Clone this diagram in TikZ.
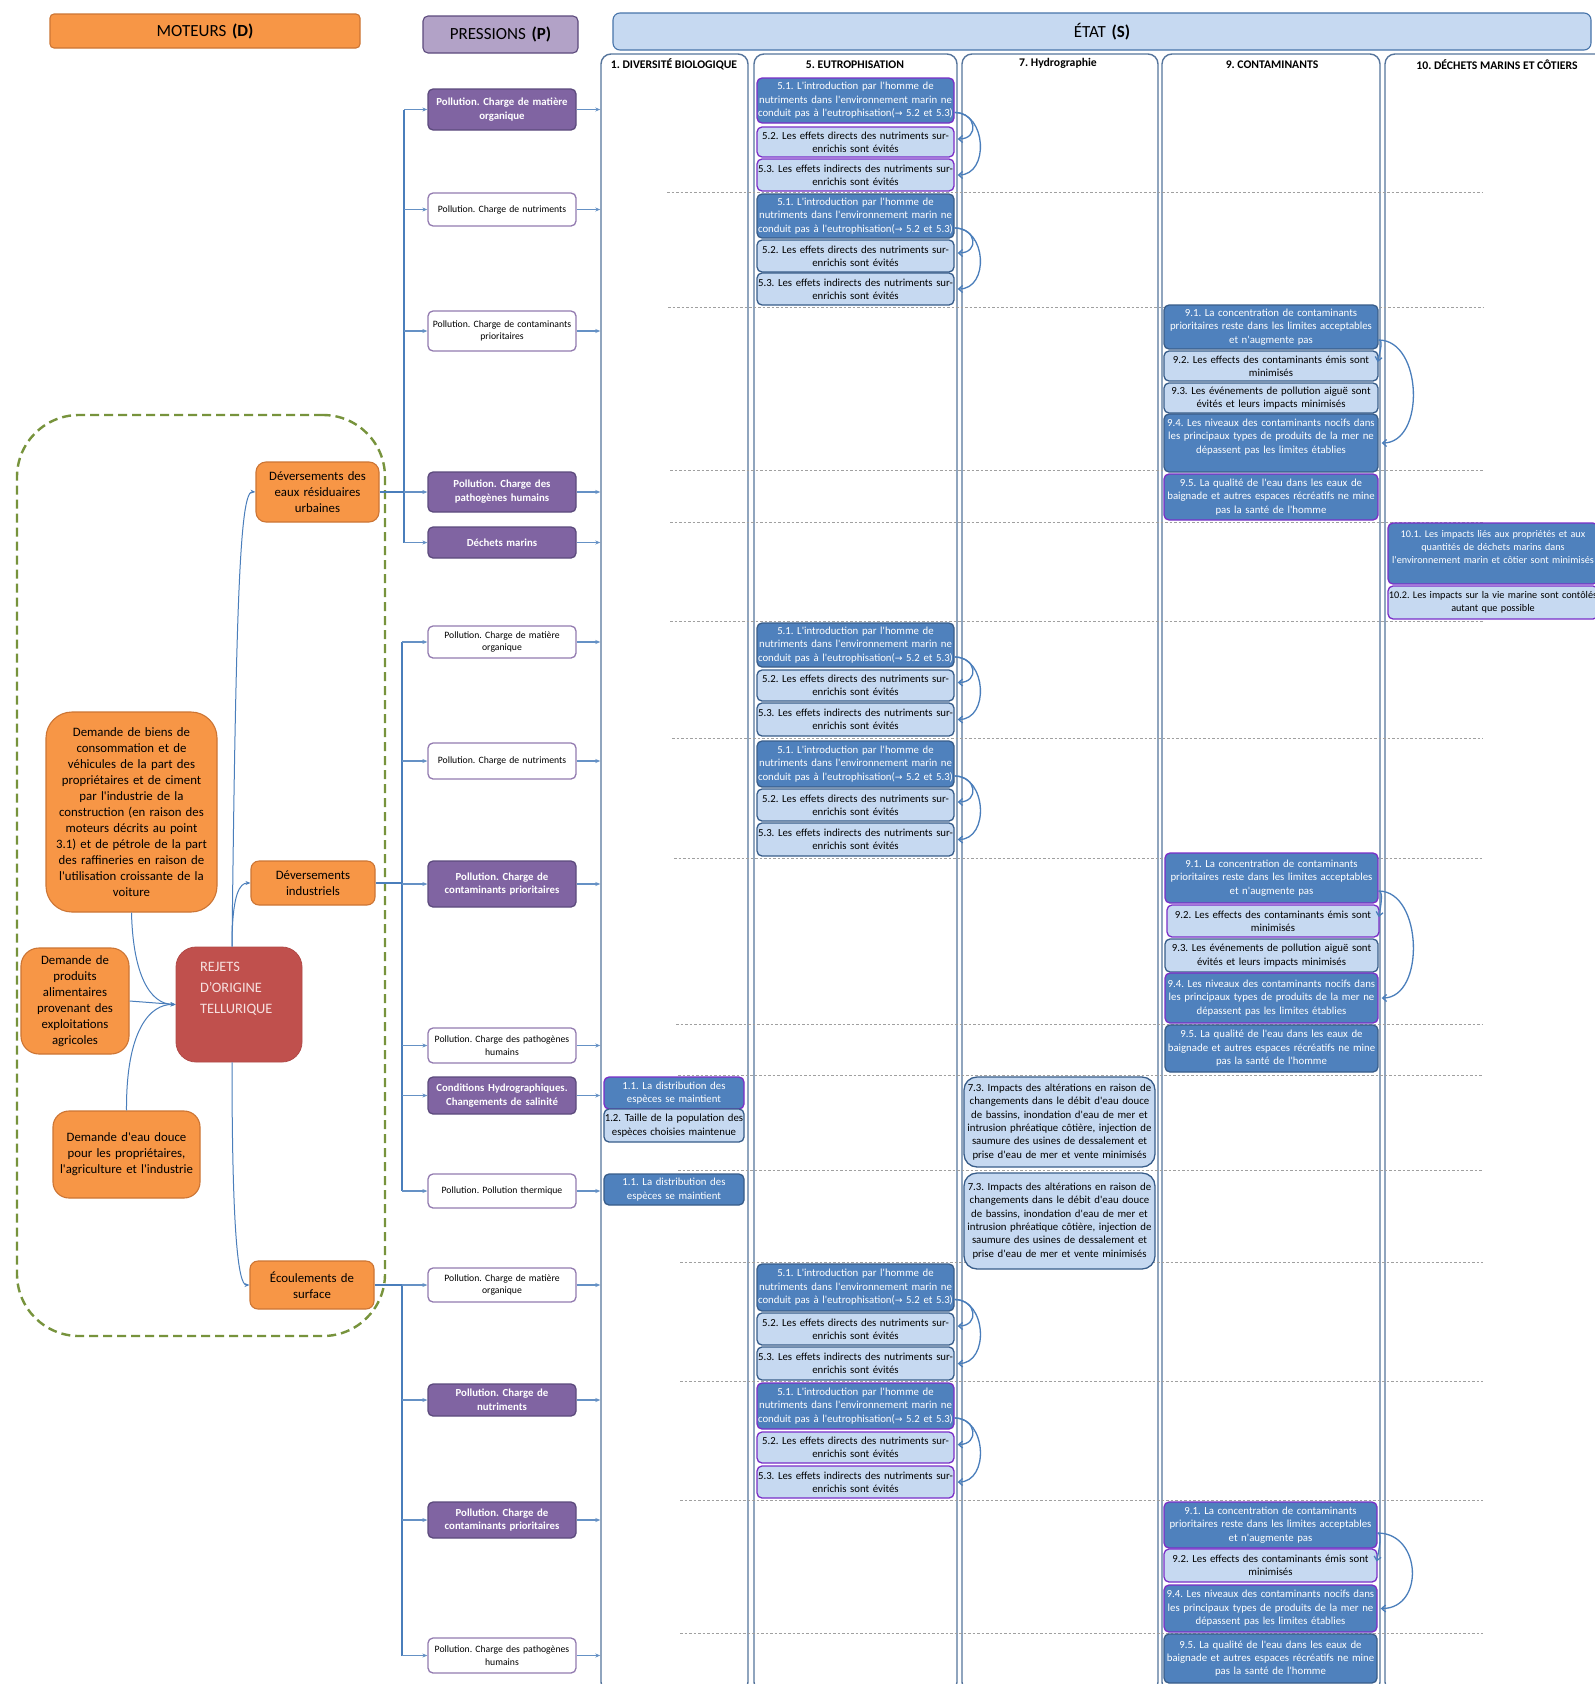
\documentclass[tikz,border=0pt]{standalone}
\usepackage{fontspec}
\setmainfont{Carlito}[Ligatures=TeXOff]
\newfontfamily\arrowfont{DejaVu Sans}[Scale=0.85]
\usetikzlibrary{arrows.meta}

\definecolor{orgF}{HTML}{F79646}
\definecolor{orgB}{HTML}{CC7534}
\definecolor{redF}{HTML}{C0504D}
\definecolor{purF}{HTML}{8064A2}
\definecolor{purB}{HTML}{5C4A7D}
\definecolor{lilac}{HTML}{B2A2C7}
\definecolor{blueD}{HTML}{4F81BD}
\definecolor{blueB}{HTML}{385D8A}
\definecolor{blueL}{HTML}{C6D9F1}
\definecolor{violetB}{HTML}{7A2FC8}
\definecolor{lineB}{HTML}{4A7EBB}
\definecolor{sepG}{HTML}{A0A0A0}
\definecolor{greenD}{HTML}{77933C}
\definecolor{rejT}{HTML}{F6E0DF}

\newcommand\fState{\fontsize{10.8}{13.4}\selectfont}
\newcommand\fLitter{\fontsize{10.2}{13.4}\selectfont}
\newcommand\fPressB{\bfseries\fontsize{10.8}{13.8}\selectfont}
\newcommand\fPressW{\fontsize{9.7}{12.8}\selectfont}
\newcommand\fDrv{\fontsize{12.8}{16}\selectfont}
\newcommand\fHead{\fontsize{17}{20}\selectfont}
\newcommand\fColH{\bfseries\fontsize{11.7}{14}\selectfont}
\newcommand\fRej{\fontsize{14.4}{21}\selectfont}
\newcommand\eutArrow{{\arrowfont →}}

% box given by its corners: style, name, x1, y1, x2, y2, text
\newcommand\bx[7]{%
  \pgfmathsetmacro\bxw{#5-#3}%
  \pgfmathsetmacro\bxh{#6-#4}%
  \node[#1, minimum width=\bxw pt, minimum height=\bxh pt, text width=\bxw pt]
    (#2) at ({(#3+#5)/2},{(#4+#6)/2}) {#7};%
}

% one eutrophication trio (5.1, 5.2, 5.3) with its two links
\newcommand\eutro[8]{%
  \bx{stD,#2}{#1a}{757}{#3}{954}{#4}{5.1. L'introduction par l'homme de\\ nutriments dans l'environnement marin ne\\ conduit pas à l'eutrophisation(\eutArrow{} 5.2 et 5.3)}
  \bx{stL,#2}{#1b}{757}{#5}{954}{#6}{5.2. Les effets directs des nutriments sur-\\ enrichis sont évités}
  \bx{stL,#2}{#1c}{757}{#7}{954}{#8}{5.3. Les effets indirects des nutriments sur-\\ enrichis sont évités}
  \draw[cv] ([yshift=-12pt]#1a.east) .. controls +(22,0) and +(22,0) .. ([xshift=3pt,yshift=3pt]#1b.east);
  \draw[cv] ([yshift=-12pt]#1a.east) .. controls +(32,0) and +(32,0) .. ([xshift=3pt]#1c.east);
}

% links from 9.1 to 9.2 and 9.4
\newcommand\conlinks[4]{%
  \draw[cv] ([yshift=-#4pt]#1.east) .. controls +(44,0) and +(44,0) .. ([xshift=3pt]#3.east);
  \draw[cv] ([yshift=-#4pt]#1.east) .. controls +(5,0) and +(2,-10) .. ([xshift=-1pt,yshift=4pt]#2.east);
}

\begin{document}
\frenchspacing
\begin{tikzpicture}[x=1pt,y=-1pt,
  base/.style={rectangle, align=center, inner xsep=0pt, inner ysep=0pt},
  stD/.style={base, fill=blueD, draw=blueB, line width=1.3pt, rounded corners=5pt, text=white, font=\fState},
  stL/.style={base, fill=blueL, draw=blueB, line width=1.3pt, rounded corners=5pt, text=black, font=\fState},
  vio/.style={draw=violetB},
  prF/.style={base, fill=purF, draw=purB, line width=1.3pt, rounded corners=5pt, text=white, font=\fPressB},
  prW/.style={base, fill=white, draw=purF!85, line width=1.3pt, rounded corners=5pt, text=black, font=\fPressW},
  drv/.style={base, fill=orgF, draw=orgB, line width=1.1pt, text=black, font=\fDrv},
  hdM/.style={base, fill=orgF, draw=orgB, line width=1.1pt, rounded corners=4pt, font=\fHead},
  hdP/.style={base, fill=lilac, draw=purB, line width=1.1pt, rounded corners=5pt, font=\fHead},
  hdS/.style={base, fill=blueL, draw=blueD!90!black, line width=1.1pt, rounded corners=7pt, font=\fHead},
  colbox/.style={base, fill=white, draw=blueB!85, line width=1.4pt, rounded corners=10pt},
  colh/.style={inner sep=0pt, font=\fColH},
  zone/.style={base, draw=greenD, line width=2.4pt, dash pattern=on 9pt off 5pt, rounded corners=62pt},
  sep/.style={draw=sepG, line width=0.9pt, dash pattern=on 2.5pt off 2pt},
  trunk/.style={draw=lineB, line width=1.8pt},
  br/.style={draw=lineB!85!white, line width=1.2pt, -{Stealth[length=5pt,width=4pt]}},
  la/.style={draw=lineB, line width=1pt, -{Stealth[length=5pt,width=4pt]}},
  cv/.style={draw=lineB, line width=1.3pt, -{Straight Barb[length=4pt,width=7pt]}},
]
\useasboundingbox (0,0) rectangle (1595,1684);
\clip (0,0) rectangle (1595,1684);
\fill[white] (0,0) rectangle (1595,1684);

% ---------- headings ----------
\bx{hdM}{moteurs}{50}{14}{360}{48}{MOTEURS \textbf{(D)}}
\bx{hdP}{pressions}{423}{16}{578}{53}{PRESSIONS \textbf{(P)}}
\bx{hdS}{etat}{613}{13}{1591}{50}{ÉTAT \textbf{(S)}}

% ---------- state columns ----------
\bx{colbox}{col1}{601}{54}{748}{1692}{}
\bx{colbox}{col2}{754}{54}{957}{1692}{}
\bx{colbox}{col3}{962}{54}{1158}{1692}{}
\bx{colbox}{col4}{1162}{54}{1380}{1692}{}
\bx{colbox}{col5}{1385}{54}{1609}{1692}{}
\node[colh] (h1) at (674,64) {1. DIVERSITÉ BIOLOGIQUE};
\node[colh] (h2) at (855,65) {5. EUTROPHISATION};
\node[colh] (h3) at (1058,63) {7. Hydrographie};
\node[colh] (h4) at (1272,65) {9. CONTAMINANTS};
\node[colh] (h5) at (1497,65) {10. DÉCHETS MARINS ET CÔTIERS};

% row separators
\foreach \yy/\xa in {192/667, 307/668, 470/670, 522/670, 621/670, 738/672, 858/674,
                     1024/676, 1075/678, 1170/678, 1262/680, 1381/680, 1500/680, 1633/680}
  \draw[sep] (\xa,\yy) -- (1483,\yy);

% ---------- drivers ----------
\bx{zone}{zone}{17}{415}{385}{1336}{}
\bx{drv, rounded corners=10pt}{dev1}{256}{462}{379}{522}{Déversements des\\ eaux résiduaires\\ urbaines}
\bx{drv, rounded corners=26pt}{dbiens}{46}{712}{217}{912}{Demande de biens de\\ consommation et de\\ véhicules de la part des\\ propriétaires et de ciment\\ par l'industrie de la\\ construction (en raison des\\ moteurs décrits au point\\ 3.1) et de pétrole de la part\\ des raffineries en raison de\\ l'utilisation croissante de la\\ voiture}
\bx{drv, rounded corners=8pt}{dev2}{251}{861}{375}{905}{Déversements\\ industriels}
\bx{drv, rounded corners=18pt}{dprod}{21}{948}{129}{1054}{Demande de\\ produits\\ alimentaires\\ provenant des\\ exploitations\\ agricoles}
\bx{drv, rounded corners=16pt}{deau}{53}{1111}{200}{1198}{Demande d'eau douce\\ pour les propriétaires,\\ l'agriculture et l'industrie}
\bx{drv, rounded corners=8pt}{ecoul}{250}{1261}{374}{1309}{Écoulements de\\ surface}
\node[rectangle, fill=redF, draw=redF!92!black, line width=0.8pt, rounded corners=20pt,
      minimum width=126pt, minimum height=115pt, text width=78pt, align=left,
      inner sep=0pt, text=rejT, font=\fRej] (rej) at (239,1004.5)
      {REJETS\\ D’ORIGINE\\ TELLURIQUE\par\vspace{32pt}};

\draw[la] ([xshift=-7pt]rej.north) .. controls (236,600) and (240,491) .. (dev1.west);
\draw[la] ([xshift=-7pt]rej.north) .. controls (232,893) and (240,883) .. (dev2.west);
\draw[la] ([xshift=-7pt]rej.south) .. controls (232,1230) and (238,1285) .. (ecoul.west);
\draw[la] (dbiens.south) .. controls (133,975) and (150,1004) .. (rej.west);
\draw[la] (dprod.east) -- (rej.west);
\draw[la] (deau.north) .. controls (126,1030) and (150,1004) .. (rej.west);

% ---------- pressures ----------
\bx{prF}{pA1}{428}{89}{576}{130}{Pollution. Charge de matière\\ organique}
\bx{prW}{pA2}{428}{193}{576}{226}{Pollution. Charge de nutriments}
\bx{prW}{pA3}{428}{311}{576}{351}{Pollution. Charge de contaminants\\ prioritaires}
\bx{prF}{pA4}{428}{472}{576}{512}{Pollution. Charge des\\ pathogènes humains}
\bx{prF}{pA5}{428}{527}{576}{558}{Déchets marins}
\bx{prW}{pB1}{428}{626}{576}{658}{Pollution. Charge de matière\\ organique}
\bx{prW}{pB2}{428}{743}{576}{779}{Pollution. Charge de nutriments}
\bx{prF}{pB3}{428}{861}{576}{907}{Pollution. Charge de\\ contaminants prioritaires}
\bx{prW}{pB4}{428}{1028}{576}{1063}{Pollution. Charge des pathogènes\\ humains}
\bx{prF}{pB5}{428}{1077}{576}{1114}{Conditions Hydrographiques.\\ Changements de salinité}
\bx{prW}{pB6}{428}{1174}{576}{1208}{Pollution. Pollution thermique}
\bx{prW}{pC1}{428}{1268}{576}{1302}{Pollution. Charge de matière\\ organique}
\bx{prF}{pC2}{428}{1384}{576}{1416}{Pollution. Charge de\\ nutriments}
\bx{prF}{pC3}{428}{1502}{576}{1538}{Pollution. Charge de\\ contaminants prioritaires}
\bx{prW}{pC4}{428}{1638}{576}{1673}{Pollution. Charge des pathogènes\\ humains}

\coordinate (tA) at (404,0);
\coordinate (tB) at (402,0);
\coordinate (tC) at (402,0);
\draw[trunk] (pA1.west -| tA) -- (pA5.west -| tA);
\draw[trunk] (dev1.east) -- (dev1.east -| tA);
\draw[trunk] (pB1.west -| tB) -- (pB6.west -| tB);
\draw[trunk] (dev2.east) -- (dev2.east -| tB);
\draw[trunk] (pC1.west -| tC) -- (pC4.west -| tC);
\draw[trunk] (ecoul.east) -- (ecoul.east -| tC);
\foreach \p in {pA1,pA2,pA3,pA4,pA5} \draw[br] (\p.west -| tA) -- (\p.west);
\foreach \p in {pB1,pB2,pB3,pB4,pB5,pB6} \draw[br] (\p.west -| tB) -- (\p.west);
\foreach \p in {pC1,pC2,pC3,pC4} \draw[br] (\p.west -| tC) -- (\p.west);
\foreach \p in {pA1,pA2,pA3,pA4,pA5,pB1,pB2,pB3,pB4,pB5,pB6,pC1,pC2,pC3,pC4}
  \draw[br] (\p.east) -- (\p.east -| col1.west);

% ---------- 1. biodiversity ----------
\bx{stD,vio}{b1}{604}{1077}{744}{1109}{1.1. La distribution des\\ espèces se maintient}
\bx{stL}{b2}{604}{1109}{744}{1142}{1.2. Taille de la population des\\ espèces choisies maintenue}
\bx{stD}{b3}{604}{1174}{744}{1205}{1.1. La distribution des\\ espèces se maintient}

% ---------- 5. eutrophication ----------
\eutro{g1}{vio}{78}{123}{127}{157}{159}{191}
\eutro{g2}{}{194}{238}{240}{272}{273}{305}
\eutro{g3}{}{623}{667}{670}{701}{703}{736}
\eutro{g4}{}{741}{787}{789}{821}{823}{856}
\eutro{g5}{}{1264}{1311}{1313}{1345}{1347}{1380}
\eutro{g6}{vio}{1383}{1429}{1432}{1463}{1466}{1498}

% ---------- 7. hydrography ----------
\bx{stL, rounded corners=13pt}{y1}{964}{1077}{1155}{1167}{7.3. Impacts des altérations en raison de\\ changements dans le débit d'eau douce\\ de bassins, inondation d'eau de mer et\\ intrusion phréatique côtière, injection de\\ saumure des usines de dessalement et\\ prise d'eau de mer et vente minimisés}
\bx{stL, rounded corners=13pt}{y2}{964}{1173}{1155}{1269}{7.3. Impacts des altérations en raison de\\ changements dans le débit d'eau douce\\ de bassins, inondation d'eau de mer et\\ intrusion phréatique côtière, injection de\\ saumure des usines de dessalement et\\ prise d'eau de mer et vente minimisés}

% ---------- 9. contaminants ----------
\bx{stD}{k1a}{1164}{305}{1378}{349}{9.1. La concentration de contaminants\\ prioritaires reste dans les limites acceptables\\ et n'augmente pas}
\bx{stL}{k1b}{1164}{351}{1378}{381}{9.2. Les effects des contaminants émis sont\\ minimisés}
\bx{stL}{k1c}{1164}{383}{1378}{413}{9.3. Les événements de pollution aiguë sont\\ évités et leurs impacts minimisés}
\bx{stD}{k1d}{1164}{414}{1378}{472}{9.4. Les niveaux des contaminants nocifs dans\\ les principaux types de produits de la mer ne\\ dépassent pas les limites établies\par\vspace{12pt}}
\bx{stD,vio}{k1e}{1164}{474}{1378}{520}{9.5. La qualité de l'eau dans les eaux de\\ baignade et autres espaces récréatifs ne mine\\ pas la santé de l'homme}
\conlinks{k1a}{k1b}{k1d}{13}

\bx{stD,vio}{k2a}{1165}{853}{1378}{903}{9.1. La concentration de contaminants\\ prioritaires reste dans les limites acceptables\\ et n'augmente pas}
\bx{stL,vio}{k2b}{1167}{905}{1379}{937}{9.2. Les effects des contaminants émis sont\\ minimisés}
\bx{stL}{k2c}{1165}{939}{1378}{972}{9.3. Les événements de pollution aiguë sont\\ évités et leurs impacts minimisés}
\bx{stD,vio}{k2d}{1165}{973}{1378}{1023}{9.4. Les niveaux des contaminants nocifs dans\\ les principaux types de produits de la mer ne\\ dépassent pas les limites établies}
\bx{stD}{k2e}{1165}{1025}{1378}{1072}{9.5. La qualité de l'eau dans les eaux de\\ baignade et autres espaces récréatifs ne mine\\ pas la santé de l'homme}
\conlinks{k2a}{k2b}{k2d}{13}

\bx{stD,vio}{k3a}{1164}{1502}{1377}{1548}{9.1. La concentration de contaminants\\ prioritaires reste dans les limites acceptables\\ et n'augmente pas}
\bx{stL,vio}{k3b}{1164}{1549}{1377}{1582}{9.2. Les effects des contaminants émis sont\\ minimisés}
\bx{stD,vio}{k3d}{1164}{1585}{1377}{1632}{9.4. Les niveaux des contaminants nocifs dans\\ les principaux types de produits de la mer ne\\ dépassent pas les limites établies}
\bx{stD}{k3e}{1164}{1634}{1377}{1683}{9.5. La qualité de l'eau dans les eaux de\\ baignade et autres espaces récréatifs ne mine\\ pas la santé de l'homme}
\conlinks{k3a}{k3b}{k3d}{8}

% ---------- 10. marine litter (boxes run past the right edge) ----------
\bx{stD,vio,font=\fLitter}{w1}{1388}{523}{1598}{584}{10.1. Les impacts liés aux propriétés et aux\\ quantités de déchets marins dans\\ l'environnement marin et côtier sont minimisés\par\vspace{13pt}}
\bx{stL,vio,font=\fLitter}{w2}{1388}{586}{1598}{619}{10.2. Les impacts sur la vie marine sont contôlés\\ autant que possible}
\end{tikzpicture}
\end{document}
